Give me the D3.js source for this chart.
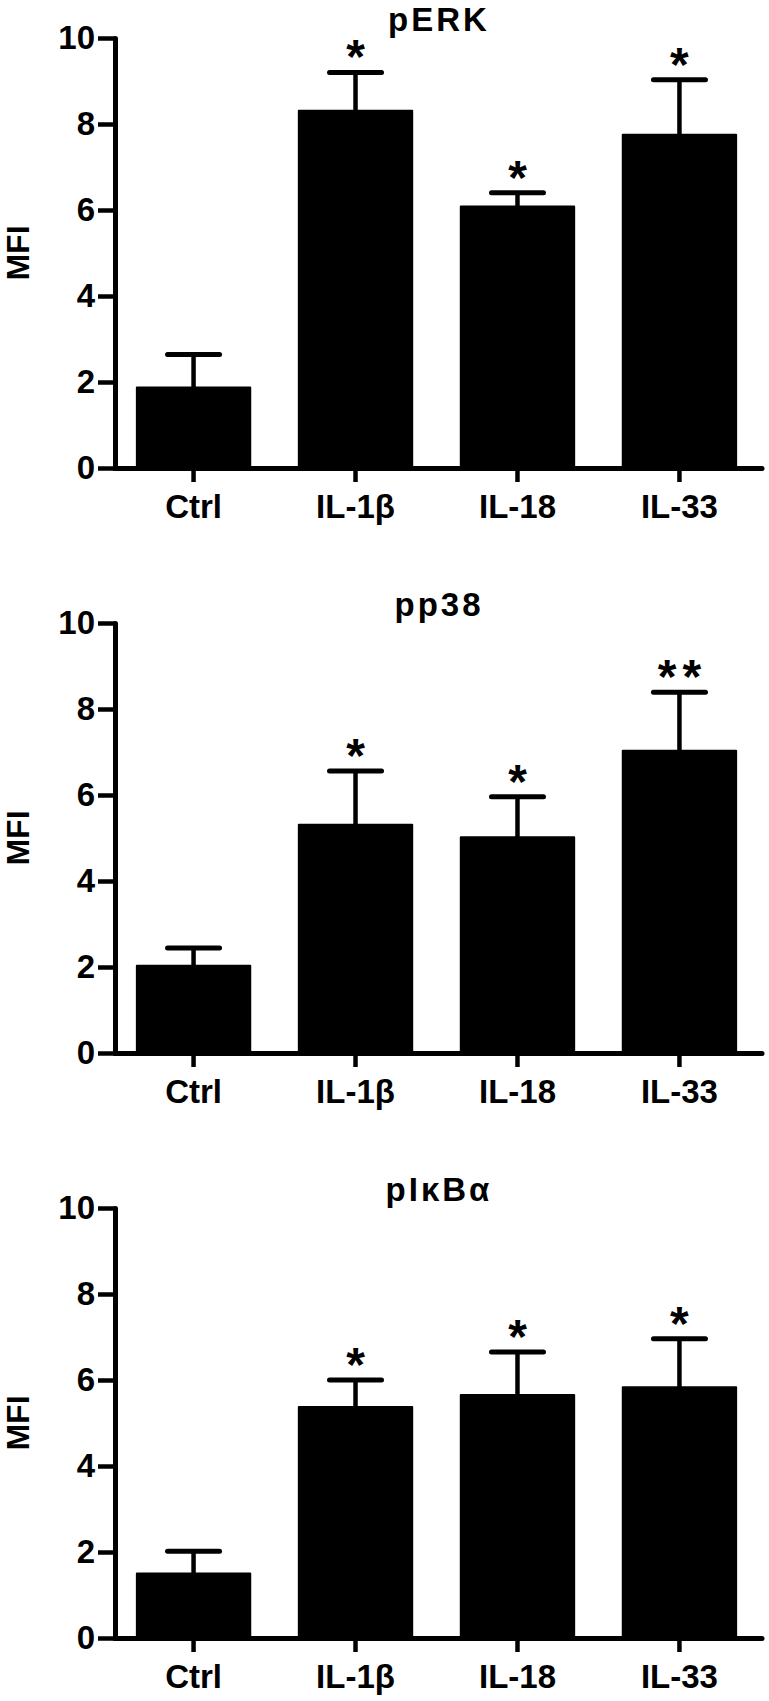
<!DOCTYPE html>
<html><head><meta charset="utf-8">
<script src="https://cdn.jsdelivr.net/npm/d3@7"></script>
<style>
body{margin:0;background:#fff}
svg{display:block;background:#fff}
text{font-family:"Liberation Sans",Arial,Helvetica,sans-serif;font-weight:bold;fill:#000}
</style>
</head><body>
<svg id="chart" width="769" height="1701"></svg>
<script>
// ---- data ----
const categories = ["Ctrl", "IL-1β", "IL-18", "IL-33"];
const yTicks = [0, 2, 4, 6, 8, 10];
const titles = ["pERK", "pp38", "pIκBα"];
const yLabel = "MFI";

const pERK_mean = [1.87, 8.31, 6.08, 7.75];
const pERK_sem  = [0.77, 0.89, 0.32, 1.28];
const pERK_sig  = ["", "*", "*", "*"];

const pp38_mean = [2.03, 5.31, 5.02, 7.03];
const pp38_sem  = [0.41, 1.25, 0.94, 1.36];
const pp38_sig  = ["", "*", "*", "**"];

const pIkBa_mean = [1.50, 5.37, 5.65, 5.83];
const pIkBa_sem  = [0.52, 0.63, 1.00, 1.13];
const pIkBa_sig  = ["", "*", "*", "*"];

const panels = [
  {title: titles[0], mean: pERK_mean, sem: pERK_sem, sig: pERK_sig},
  {title: titles[1], mean: pp38_mean, sem: pp38_sem, sig: pp38_sig},
  {title: titles[2], mean: pIkBa_mean, sem: pIkBa_sem, sig: pIkBa_sig}
];

// ---- layout ----
const svg = d3.select("#chart");
const axisX = 115, axisEnd = 762;
const plotH = 430, firstTop = 38, panelStep = 585;

const x = d3.scaleBand().domain(categories).range([axisX, 758])
  .paddingInner(0.3).paddingOuter(0.135);

panels.forEach((p, i) => {
  const top = firstTop + i * panelStep;
  const y = d3.scaleLinear().domain([0, 10]).range([top + plotH, top]);
  const g = svg.append("g");
  const y0 = y(0);

  // bars
  g.selectAll("rect.bar").data(categories).join("rect")
    .attr("class", "bar")
    .attr("x", c => x(c))
    .attr("width", x.bandwidth())
    .attr("y", (c, k) => y(p.mean[k]))
    .attr("height", (c, k) => y0 - y(p.mean[k]))
    .attr("fill", "#000").attr("stroke", "#000")
    .attr("stroke-width", 2).attr("stroke-linejoin", "round");

  // error bars
  const cx = c => x(c) + x.bandwidth() / 2;
  g.selectAll("line.stem").data(categories).join("line")
    .attr("x1", cx).attr("x2", cx)
    .attr("y1", (c, k) => y(p.mean[k]))
    .attr("y2", (c, k) => y(p.mean[k] + p.sem[k]))
    .attr("stroke", "#000").attr("stroke-width", 4.5);
  g.selectAll("line.cap").data(categories).join("line")
    .attr("x1", c => cx(c) - 26).attr("x2", c => cx(c) + 26)
    .attr("y1", (c, k) => y(p.mean[k] + p.sem[k]))
    .attr("y2", (c, k) => y(p.mean[k] + p.sem[k]))
    .attr("stroke", "#000").attr("stroke-width", 5).attr("stroke-linecap", "round");

  // significance stars
  g.selectAll("text.sig").data(categories).join("text")
    .attr("x", c => cx(c))
    .attr("dx", (c, k) => p.sig[k].length > 1 ? 3 : 0)
    .attr("y", (c, k) => y(p.mean[k] + p.sem[k]) + 1)
    .attr("text-anchor", "middle")
    .style("font-size", "48px")
    .style("letter-spacing", (c, k) => p.sig[k].length > 1 ? "6px" : "0px")
    .text((c, k) => p.sig[k]);

  // y axis
  const ya = g.append("g").attr("transform", `translate(${axisX},0)`)
    .call(d3.axisLeft(y).tickValues(yTicks).tickSize(17).tickSizeOuter(0).tickPadding(3));
  ya.select(".domain").attr("stroke-width", 5).attr("stroke-linecap", "round");
  ya.selectAll(".tick line").attr("stroke-width", 4.5);
  ya.selectAll(".tick text").style("font-size", "33px")
    .style("font-family", '"Liberation Sans",Arial,sans-serif').style("font-weight", "bold");

  // x axis
  const xa = g.append("g").attr("transform", `translate(0,${y0})`)
    .call(d3.axisBottom(x).tickSize(14).tickSizeOuter(0).tickPadding(13));
  xa.select(".domain").remove();
  xa.append("line").attr("x1", axisX).attr("x2", axisEnd).attr("y1", 0.5).attr("y2", 0.5)
    .attr("stroke", "#000").attr("stroke-width", 5).attr("stroke-linecap", "round");
  xa.selectAll(".tick line").attr("stroke-width", 4.5);
  xa.selectAll(".tick text").style("font-size", "33px")
    .style("font-family", '"Liberation Sans",Arial,sans-serif').style("font-weight", "bold");

  // title
  g.append("text").attr("x", 439).attr("y", top - 7)
    .attr("text-anchor", "middle").style("font-size", "33px").style("letter-spacing", "3px")
    .text(p.title);

  // y label
  g.append("text").attr("transform", `translate(28.5,${(top + y0) / 2}) rotate(-90)`)
    .attr("text-anchor", "middle").style("font-size", "32px").text(yLabel);
});
</script>
</body></html>
